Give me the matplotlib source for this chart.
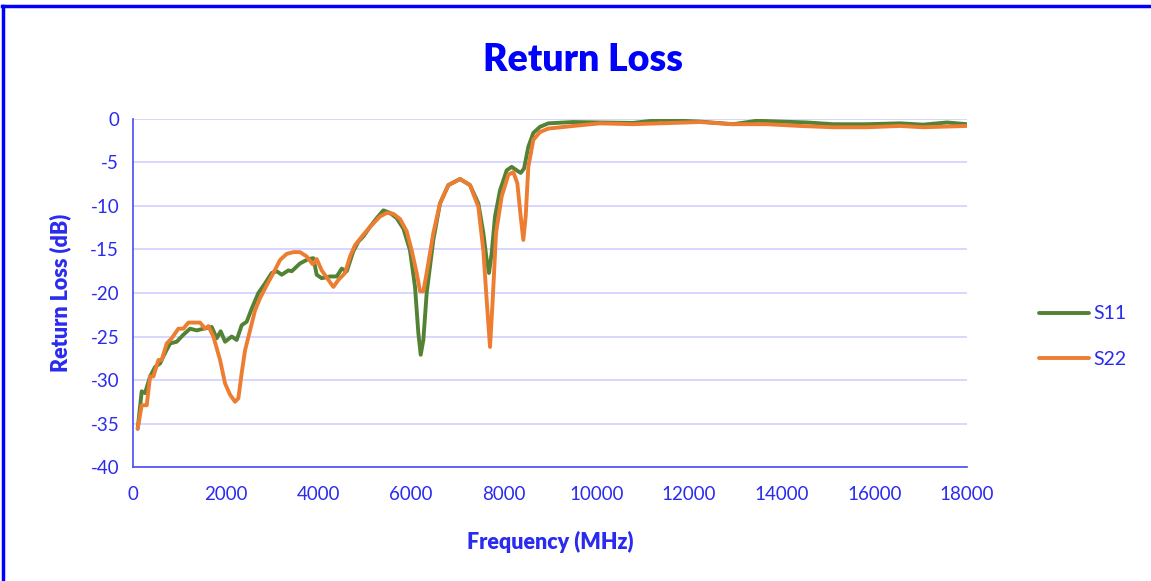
import numpy as np
import matplotlib
matplotlib.use("Agg")
from matplotlib import pyplot as plt
from matplotlib.lines import Line2D

# S11 readings (MHz, dB)
s11_freq = [100, 187, 259, 367, 475, 583, 690, 800, 942, 1086, 1230, 1374, 1518, 1698, 1806,
            1892, 1986, 2130, 2237, 2345, 2453, 2561, 2705, 2849, 2993, 3101, 3209, 3353, 3425,
            3604, 3784, 3892, 3964, 4072, 4252, 4396, 4504, 4612, 4755, 4863, 4971, 5115, 5259,
            5403, 5547, 5691, 5835, 5978, 6086, 6158, 6209, 6266, 6338, 6482, 6626, 6806, 7058,
            7273, 7453, 7561, 7633, 7683, 7741, 7813, 7921, 8065, 8173, 8281, 8367, 8439, 8532,
            8640, 8784, 8964, 9500, 10080, 10790, 11375, 12238, 12950, 13468, 14548, 15109,
            15843, 16555, 17052, 17570, 18000]
s11_db = [-35.6, -31.3, -31.5, -29.6, -28.5, -28.1, -26.9, -25.8, -25.6, -24.8, -24.1, -24.3,
          -24.1, -23.9, -25.2, -24.4, -25.6, -25.0, -25.4, -23.7, -23.3, -21.8, -20.0, -18.9,
          -17.7, -17.5, -17.9, -17.4, -17.5, -16.6, -16.1, -16.0, -17.9, -18.3, -18.1, -18.1,
          -17.2, -17.5, -15.2, -14.1, -13.5, -12.4, -11.4, -10.5, -10.8, -11.4, -12.6, -15.1,
          -19.3, -24.6, -27.1, -25.4, -20.0, -13.9, -9.7, -7.6, -6.9, -7.6, -9.7, -13.1, -16.2,
          -17.7, -15.4, -11.2, -8.2, -5.9, -5.5, -5.9, -6.2, -5.7, -3.2, -1.6, -0.9, -0.5,
          -0.35, -0.4, -0.45, -0.1, -0.3, -0.6, -0.2, -0.4, -0.6, -0.6, -0.5, -0.65, -0.4, -0.6]

# S22 readings (MHz, dB)
s22_freq = [100, 187, 295, 367, 439, 547, 619, 727, 835, 978, 1086, 1194, 1302, 1446, 1554,
            1626, 1734, 1878, 1986, 2094, 2201, 2273, 2345, 2417, 2525, 2633, 2741, 2885, 3029,
            3173, 3317, 3460, 3604, 3748, 3878, 3964, 4072, 4216, 4324, 4432, 4576, 4684, 4791,
            4971, 5151, 5331, 5475, 5619, 5763, 5906, 6014, 6122, 6194, 6266, 6338, 6482, 6626,
            6806, 7058, 7273, 7453, 7561, 7633, 7705, 7763, 7835, 7957, 8101, 8209, 8295, 8367,
            8424, 8475, 8532, 8640, 8784, 8964, 9500, 10080, 10790, 11375, 12238, 12950, 13684,
            14397, 15109, 15843, 16555, 17052, 18000]
s22_db = [-35.6, -32.9, -32.9, -29.6, -29.6, -27.7, -27.7, -25.8, -25.2, -24.1, -24.1, -23.4,
          -23.4, -23.4, -24.1, -23.8, -25.0, -27.7, -30.4, -31.7, -32.5, -32.1, -29.2, -26.6,
          -24.3, -22.0, -20.6, -19.1, -17.7, -16.2, -15.5, -15.3, -15.3, -15.8, -16.7, -16.1,
          -17.4, -18.5, -19.3, -18.5, -17.7, -15.8, -14.5, -13.3, -12.2, -11.2, -10.8, -10.9,
          -11.5, -12.9, -15.1, -17.7, -19.8, -19.8, -17.7, -13.1, -9.7, -7.6, -6.9, -7.6, -10.1,
          -15.1, -20.8, -26.2, -20.8, -13.1, -8.9, -6.4, -6.1, -7.4, -11.2, -13.9, -11.2, -5.5,
          -2.4, -1.5, -1.1, -0.8, -0.5, -0.6, -0.5, -0.35, -0.6, -0.6, -0.8, -0.95, -0.95, -0.8,
          -0.95, -0.8]

blue = '#2b2bf0'
plt.rcParams['font.family'] = ['Lato', 'DejaVu Sans']
plt.rcParams['axes.unicode_minus'] = False

fig = plt.figure(figsize=(11.51, 5.81), dpi=100)
ax = fig.add_axes([0.1156, 0.1962, 0.7245, 0.599])

ax.plot(s11_freq, s11_db, color='#548235', lw=2.8, solid_joinstyle='round',
        solid_capstyle='round', label='S11', zorder=3)
ax.plot(s22_freq, s22_db, color='#ED7D31', lw=2.8, solid_joinstyle='round',
        solid_capstyle='round', label='S22', zorder=4)

ax.set_xlim(0, 18000)
ax.set_ylim(-40, 0)
ax.set_xticks(np.arange(0, 18001, 2000))
ax.set_yticks(np.arange(-40, 1, 5))
ax.grid(axis='y', color='#cfcfff', lw=1.2)
ax.set_axisbelow(True)
for s in ['top', 'right']:
    ax.spines[s].set_visible(False)
for s in ['left', 'bottom']:
    ax.spines[s].set_color('#4a4af5')
    ax.spines[s].set_linewidth(1.2)
ax.tick_params(length=0, labelsize=13.5, colors=blue, pad=10)
ax.tick_params(axis='x', pad=14)

ax.set_xlabel('Frequency (MHz)', color=blue, fontsize=15.5, fontweight='heavy', labelpad=20)
ax.set_ylabel('Return Loss (dB)', color=blue, fontsize=15.5, fontweight='heavy', labelpad=14)
fig.text(0.5065, 0.897, 'Return Loss', color='#0000ff', fontsize=27, fontweight='heavy',
         ha='center', va='center')

leg = ax.legend(loc='center left', bbox_to_anchor=(1.065, 0.375), frameon=False,
                fontsize=14, handlelength=2.6, handletextpad=0.2, labelspacing=1.45)
for t in leg.get_texts():
    t.set_color(blue)

# border of the chart area
fig.add_artist(Line2D([0.002, 1.0], [0.990, 0.990], color='#0000ff', lw=2.5))
fig.add_artist(Line2D([0.003, 0.003], [0.0, 0.990], color='#0000ff', lw=2.5))

fig.savefig('out.png', dpi=100)
